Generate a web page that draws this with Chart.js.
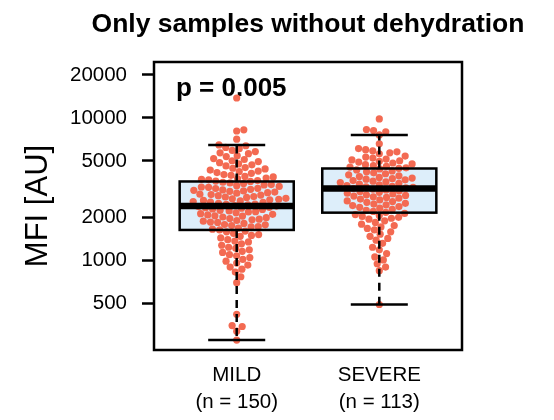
<!DOCTYPE html>
<html><head><meta charset="utf-8">
<script src="https://cdn.jsdelivr.net/npm/chart.js@4/dist/chart.umd.min.js"></script>
<style>html,body{margin:0;padding:0;background:#fff}canvas{display:block}</style>
</head><body>
<canvas id="c" width="554" height="420"></canvas>
<script>
const categories = ['MILD', 'SEVERE'];
const groupSizes = ['(n = 150)', '(n = 113)'];
const titleText = 'Only samples without dehydration';
const yAxisTitle = 'MFI [AU]';
const pValueLabel = 'p = 0.005';
const yTicks = [500, 1000, 2000, 5000, 10000, 20000];

const mildValues = [13800,
 8250, 8100, 7100,
 6470, 6380, 6210, 6090, 5920,
 5810, 5690, 5620, 5440, 5360, 5190, 5110, 5010,
 4940, 4860, 4760, 4690, 4610, 4490, 4440, 4390, 4310, 4240,
 4210, 4140, 4090, 4010, 3960, 3890, 3860, 3790, 3760, 3710, 3680, 3640,
 3610, 3590, 3540, 3500, 3470, 3410, 3390, 3350, 3310, 3280, 3260, 3210, 3200, 3160, 3130, 3110,
 3080, 3060, 3020, 2990, 2970, 2920, 2900, 2880, 2850, 2810, 2790, 2770, 2730, 2710, 2690, 2670, 2640,
 2620, 2590, 2570, 2560, 2520, 2490, 2480, 2460, 2430, 2410, 2390, 2360, 2350, 2330, 2300, 2280, 2250,
 2230, 2200, 2190, 2160, 2130, 2110, 2090, 2060, 2050, 2020, 2000, 1970, 1950, 1930, 1910,
 1890, 1860, 1850, 1820, 1790, 1780, 1760, 1730, 1720, 1690, 1660, 1640,
 1610, 1590, 1550, 1520, 1500, 1480, 1440, 1400,
 1370, 1350, 1310, 1280, 1240, 1220, 1190,
 1160, 1140, 1100, 1080, 1050, 1020,
 990, 960, 930, 900, 870,
 830, 770,
 700,
 420, 350, 345, 320, 277];

const severeValues = [9840,
 8300, 8150, 8000, 7600,
 6580,
 6100, 5990, 5880, 5790, 5690, 5600,
 5400, 5320, 5230, 5150, 5080, 5010,
 4960, 4900, 4830, 4760, 4700, 4640, 4580, 4520, 4470, 4430,
 4390, 4320, 4250, 4190, 4120, 4060, 3990, 3930, 3880, 3830, 3790, 3750,
 3720, 3680, 3640, 3600, 3560, 3520, 3480, 3440, 3400, 3360, 3320, 3290, 3260, 3230, 3200,
 3170, 3130, 3090, 3050, 3010, 2970, 2930, 2890, 2860, 2830, 2800, 2770, 2740,
 2700, 2660, 2620, 2590, 2560, 2520, 2490, 2460, 2430, 2390, 2360, 2330,
 2290, 2250, 2210, 2180, 2140, 2100, 2070, 2040, 2010, 1980,
 1950, 1900, 1850, 1800, 1760, 1720, 1680,
 1640, 1590, 1530, 1480, 1430,
 1390, 1320, 1240,
 1190, 1120, 1060,
 1010, 950, 900,
 850,
 492];

const boxQ1 = [1639, 2167];
const boxMedian = [2413, 3203];
const boxQ3 = [3585, 4421];
const whiskerLow = [277, 492];
const whiskerHigh = [6470, 7600];

const FONT = '"Liberation Sans", Arial, Helvetica, sans-serif';
const POINT_COLOR = '#F36A52';
const BOX_FILL = '#DDEEFA';
const BOX_HALF = 0.4;
const CAP_HALF = 0.2;
const POINT_R = 3.6;
const SWARM_D = 7.2;

const groups = [mildValues, severeValues];

const boxPlugin = {
  id: 'boxes',
  beforeDatasetsDraw(chart) {
    const {ctx, scales: {x, y}, chartArea} = chart;
    ctx.save();
    ctx.font = 'bold 26px ' + FONT;
    ctx.fillStyle = '#000';
    ctx.textAlign = 'left';
    ctx.textBaseline = 'alphabetic';
    ctx.fillText(pValueLabel, chartArea.left + 22, chartArea.top + 34);
    categories.forEach((c, i) => {
      const cx = i + 1;
      const x0 = x.getPixelForValue(cx - BOX_HALF), x1 = x.getPixelForValue(cx + BOX_HALF);
      const yt = y.getPixelForValue(boxQ3[i]), yb = y.getPixelForValue(boxQ1[i]);
      ctx.fillStyle = BOX_FILL;
      ctx.fillRect(x0, yt, x1 - x0, yb - yt);
    });
    ctx.restore();
  },
  afterDatasetsDraw(chart) {
    const {ctx, scales: {x, y}, chartArea} = chart;
    ctx.save();
    ctx.strokeStyle = '#000';
    categories.forEach((c, i) => {
      const cx = i + 1;
      const px = x.getPixelForValue(cx);
      const x0 = x.getPixelForValue(cx - BOX_HALF), x1 = x.getPixelForValue(cx + BOX_HALF);
      const c0 = x.getPixelForValue(cx - CAP_HALF), c1 = x.getPixelForValue(cx + CAP_HALF);
      const yq3 = y.getPixelForValue(boxQ3[i]), yq1 = y.getPixelForValue(boxQ1[i]);
      const ym = y.getPixelForValue(boxMedian[i]);
      const yhi = y.getPixelForValue(whiskerHigh[i]), ylo = y.getPixelForValue(whiskerLow[i]);
      ctx.lineWidth = 2.5;
      ctx.setLineDash([8, 6]);
      ctx.beginPath();
      ctx.moveTo(px, yq3); ctx.lineTo(px, yhi);
      ctx.moveTo(px, yq1); ctx.lineTo(px, ylo);
      ctx.stroke();
      ctx.setLineDash([]);
      ctx.beginPath();
      ctx.moveTo(c0, yhi); ctx.lineTo(c1, yhi);
      ctx.moveTo(c0, ylo); ctx.lineTo(c1, ylo);
      ctx.stroke();
      ctx.strokeRect(x0, yq3, x1 - x0, yq1 - yq3);
      ctx.lineWidth = 6.5;
      ctx.beginPath();
      ctx.moveTo(x0, ym); ctx.lineTo(x1, ym);
      ctx.stroke();
    });
    ctx.lineWidth = 2.5;
    ctx.strokeRect(chartArea.left, chartArea.top, chartArea.right - chartArea.left, chartArea.bottom - chartArea.top);
    ctx.restore();
  },
  afterDraw(chart) {
    const {ctx, chartArea} = chart;
    ctx.save();
    ctx.font = 'bold 26.5px ' + FONT;
    ctx.fillStyle = '#000';
    ctx.textAlign = 'center';
    ctx.textBaseline = 'alphabetic';
    ctx.fillText(titleText, (chartArea.left + chartArea.right) / 2, chartArea.top - 30);
    ctx.restore();
  }
};

function swarm(values, yScale, d) {
  const items = values.map((v, i) => ({i, py: yScale.getPixelForValue(v)}));
  items.sort((a, b) => b.py - a.py);
  const placed = [];
  const out = new Array(values.length).fill(0);
  for (const it of items) {
    const cands = [0];
    for (const p of placed) {
      const dy = Math.abs(p.py - it.py);
      if (dy < d) {
        const dx = Math.sqrt(d * d - dy * dy);
        cands.push(p.px + dx, p.px - dx);
      }
    }
    cands.sort((a, b) => Math.abs(a) - Math.abs(b));
    let best = 0;
    for (const c of cands) {
      let ok = true;
      for (const p of placed) {
        const dx = c - p.px, dy = it.py - p.py;
        if (dx * dx + dy * dy < d * d - 1e-6) { ok = false; break; }
      }
      if (ok) { best = c; break; }
    }
    placed.push({px: best, py: it.py});
    out[it.i] = best;
  }
  return out;
}

const chart = new Chart(document.getElementById('c'), {
  type: 'scatter',
  data: {
    datasets: groups.map((vals, gi) => ({
      label: categories[gi],
      data: vals.map(v => ({x: gi + 1, y: v})),
      backgroundColor: POINT_COLOR,
      borderWidth: 0,
      pointRadius: POINT_R,
      pointHoverRadius: POINT_R
    }))
  },
  options: {
    responsive: false,
    animation: false,
    events: [],
    layout: {padding: {top: 62, right: 92, bottom: 0, left: 0}},
    plugins: {legend: {display: false}, tooltip: {enabled: false}, title: {display: false}},
    scales: {
      x: {
        type: 'linear', min: 0.42, max: 2.58,
        afterBuildTicks: s => { s.ticks = categories.map((c, i) => ({value: i + 1})); },
        afterFit: s => { s.height = 70; },
        grid: {display: false, drawTicks: false, tickLength: 0},
        border: {display: false},
        ticks: {
          autoSkip: false, maxRotation: 0, minRotation: 0, padding: 11.5, color: '#000',
          font: {family: FONT, size: 20.5, lineHeight: 1.32},
          callback: v => { const i = Math.round(v) - 1; return [categories[i], groupSizes[i]]; }
        }
      },
      y: {
        type: 'logarithmic', min: 236, max: 24670,
        afterBuildTicks: s => { s.ticks = yTicks.map(v => ({value: v})); },
        afterFit: s => { s.width = 154; },
        grid: {drawOnChartArea: false, drawTicks: true, tickLength: 12, tickWidth: 2.5, tickColor: '#000', color: '#000'},
        border: {display: false},
        ticks: {
          autoSkip: false, padding: 15, color: '#000',
          font: {family: FONT, size: 20.5},
          callback: v => String(v)
        },
        title: {display: true, text: yAxisTitle, color: '#000', font: {family: FONT, size: 31}, padding: {top: 20, bottom: 0}}
      }
    }
  },
  plugins: [boxPlugin]
});

const xs = chart.scales.x, ys = chart.scales.y;
const pxPerUnit = xs.getPixelForValue(1) - xs.getPixelForValue(0);
groups.forEach((vals, gi) => {
  const offs = swarm(vals, ys, SWARM_D);
  chart.data.datasets[gi].data = vals.map((v, k) => ({x: gi + 1 + offs[k] / pxPerUnit, y: v}));
});
chart.update('none');
</script>
</body></html>
